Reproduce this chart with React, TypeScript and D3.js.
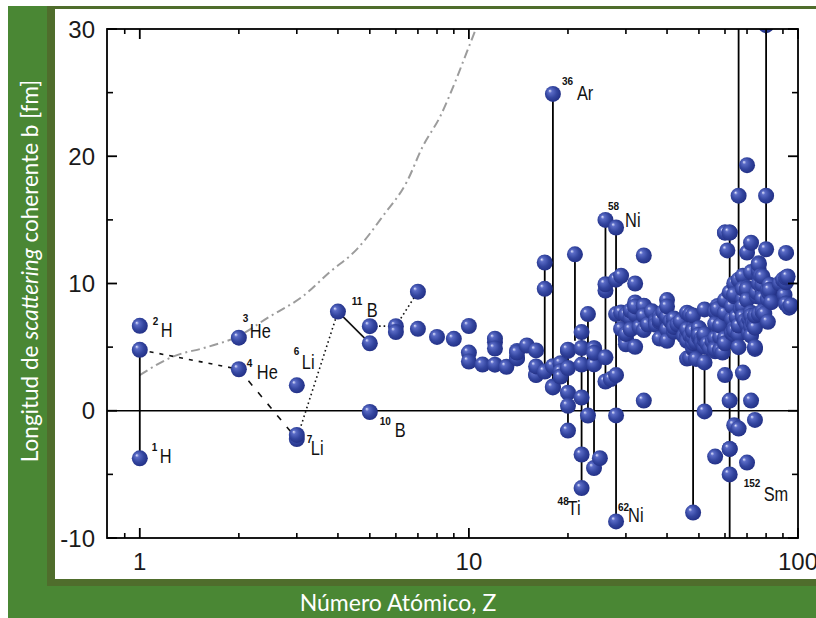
import * as d3 from 'd3';

// ---- data ----
// [Z, coherent scattering lengths b (fm) of the element / its isotopes]
const isotopes: [number, number[]][] = [
  [1, [-3.74, 6.67, 4.79]],
  [2, [5.74, 3.26]],
  [3, [2.0, -2.22, -1.9]],
  [4, [7.79]],
  [5, [6.65, 5.3, -0.1]],
  [6, [6.65, 6.19]],
  [7, [9.36, 6.44]],
  [8, [5.8]],
  [9, [5.65]],
  [10, [4.57, 6.66, 3.87]],
  [11, [3.63]],
  [12, [5.38, 5.66, 3.62, 4.89]],
  [13, [3.45]],
  [14, [4.15, 4.11, 4.7, 4.58]],
  [15, [5.13]],
  [16, [2.85, 2.8, 4.74, 3.48]],
  [17, [9.58, 11.65, 3.08]],
  [18, [1.91, 24.9, 3.5, 1.83]],
  [19, [3.67, 3.74, 3.1, 2.69]],
  [20, [4.7, 4.8, 3.36, -1.56, 1.42, 0.39]],
  [21, [12.29]],
  [22, [-3.44, 4.93, 3.63, -6.08, 1.04, 6.18]],
  [23, [-0.38, 7.6]],
  [24, [3.64, 4.9, 4.91, -4.5, 4.55]],
  [25, [-3.73]],
  [26, [9.45, 4.2, 9.94, 2.3, 15.0]],
  [27, [2.49]],
  [28, [10.3, 14.4, 2.8, 7.6, -8.7, -0.37]],
  [29, [7.72, 6.43, 10.61]],
  [30, [5.68, 5.6, 5.22, 7.56, 6.04]],
  [31, [7.29, 7.88, 6.4]],
  [32, [8.19, 10.0, 8.51, 5.02, 7.58, 8.2]],
  [33, [6.58]],
  [34, [7.97, 0.8, 12.2, 8.25, 8.24, 7.48, 6.34]],
  [35, [6.8, 6.79]],
  [36, [7.81]],
  [37, [7.09, 7.03, 6.75]],
  [38, [7.02, 7.0, 5.67, 7.4, 7.15]],
  [39, [7.75]],
  [40, [7.16, 6.4, 8.7, 7.4, 8.2, 5.5]],
  [41, [7.05]],
  [42, [6.72, 6.91, 6.8, 6.2, 7.24, 6.58]],
  [43, [6.8]],
  [44, [7.03]],
  [45, [5.88]],
  [46, [5.91, 7.7, 5.5, 6.4, 4.1]],
  [47, [5.92, 7.56, 4.17]],
  [48, [4.87, 5.0, 5.31, 5.78, 6.47, 6.34, -8.0, 7.48, 6.26]],
  [49, [4.07, 5.39]],
  [50, [6.23, 6.0, 6.1, 5.93, 6.48, 6.07, 6.12, 6.49, 5.74, 5.97]],
  [51, [5.57, 5.71, 5.38]],
  [52, [5.8, 5.3, 3.8, -0.05, 7.96, 5.02, 5.56, 5.89, 6.02]],
  [53, [5.28]],
  [54, [4.92]],
  [55, [5.42]],
  [56, [5.07, -3.6, 7.8, 5.7, 4.67, 4.91, 6.83, 4.84]],
  [57, [8.24, 8.0]],
  [58, [4.84, 5.8, 6.7, 4.75]],
  [59, [4.58]],
  [60, [7.69, 7.7, 14.0, 2.8, 14.0, 8.7, 5.7, 5.3]],
  [61, [12.6]],
  [62, [0.8, -3.0, 14.0, -3.0, -19.2, 14.0, -5.0, 9.3]],
  [63, [7.22, 6.13, 8.22]],
  [64, [6.5, 10.0, 6.0, 6.3, -1.14, 9.0, 9.15]],
  [65, [7.38]],
  [66, [16.9, 6.1, 6.0, 6.7, 10.3, -1.4, 5.0, 49.4]],
  [67, [8.01]],
  [68, [7.79, 8.8, 8.2, 10.6, 3.0, 7.4, 9.6]],
  [69, [7.07]],
  [70, [12.43, -4.07, 6.77, 9.66, 9.43, 9.56, 19.3, 8.72]],
  [71, [7.21, 6.1]],
  [72, [7.7, 10.9, 6.61, 0.8, 5.9, 7.46, 13.2]],
  [73, [6.91]],
  [74, [4.86, 5.0, 6.97, 6.53, 7.48, -0.72]],
  [75, [9.2, 9.0, 9.3]],
  [76, [10.7, 10.0, 11.6, 7.6, 11.0, 11.5]],
  [77, [10.6]],
  [78, [9.6, 9.0, 9.9, 10.55, 8.83, 7.8]],
  [79, [7.63]],
  [80, [12.69, 30.3, 16.9]],
  [81, [8.78, 6.99, 9.52]],
  [82, [9.41, 9.9, 9.22, 9.28, 9.5]],
  [83, [8.53]],
  [88, [10.0]],
  [90, [10.31]],
  [91, [9.1]],
  [92, [8.42, 10.1, 12.4, 10.47, 8.4]],
  [93, [10.55]],
  [94, [8.1]],
  [95, [8.3]],
];

// vertical black bars: [Z, b low, b high]
const rangeBars: [number, number, number][] = [
  [1, -3.74, 4.79],
  [17, 3.08, 11.65],
  [18, 1.83, 24.9],
  [20, -1.56, 4.8],
  [21, 5.5, 12.29],
  [22, -6.08, 6.18],
  [23, -0.38, 7.6],
  [24, -4.5, 4.91],
  [26, 2.3, 15.0],
  [28, -8.7, 14.4],
  [48, -8.0, 4.6],
  [52, -0.05, 3.8],
  [62, -19.2, 14.0],
  [66, -1.4, 49.4],
  [80, 12.69, 30.3],
];

// grey dash-dot curve
const curveZ = [1.0, 1.26, 1.6, 1.97, 2.48, 3.13, 3.78, 4.57, 5.48, 6.48, 7.25, 8.17, 9.07, 9.86, 10.5];
const curveB = [2.8, 4.25, 5.0, 5.8, 7.4, 9.0, 10.9, 12.7, 15.3, 18.0, 20.8, 23.1, 25.8, 28.2, 30.0];

// links between light nuclei: [Z1, b1, Z2, b2, dash]
const chainLinks: [number, number, number, number, string][] = [
  [1, 4.79, 2, 3.26, '4,6'],
  [2, 3.26, 3, -2.22, '6,9'],
  [3, -2.22, 4, 7.79, '1.6,3'],
  [4, 7.79, 5, 5.3, ''],
  [5, 6.65, 6, 6.65, '1.6,3'],
  [6, 6.65, 7, 9.36, '1.6,3'],
];

// isotope labels: anchor point, superscript, symbol, offsets (px)
const isoLabels = [
  { z: 1, b: -3.74, sup: '1', sym: 'H', sx: 12, sy: -7, nx: 20, ny: 5 },
  { z: 1, b: 6.67, sup: '2', sym: 'H', sx: 13, sy: -1, nx: 21, ny: 11 },
  { z: 2, b: 5.74, sup: '3', sym: 'He', sx: 4, sy: -16, nx: 11, ny: 0 },
  { z: 2, b: 3.26, sup: '4', sym: 'He', sx: 8, sy: -2, nx: 18, ny: 10 },
  { z: 3, b: 2.0, sup: '6', sym: 'Li', sx: -3, sy: -30, nx: 5, ny: -16 },
  { z: 3, b: -2.22, sup: '7', sym: 'Li', sx: 10, sy: 4, nx: 14, ny: 16 },
  { z: 5, b: 6.65, sup: '11', sym: 'B', sx: -18, sy: -21, nx: -3, ny: -9 },
  { z: 5, b: -0.1, sup: '10', sym: 'B', sx: 10, sy: 13, nx: 25, ny: 25 },
  { z: 18, b: 24.9, sup: '36', sym: 'Ar', sx: 9, sy: -9, nx: 24, ny: 6 },
  { z: 28, b: 14.4, sup: '58', sym: 'Ni', sx: -8, sy: -18, nx: 9, ny: -1 },
  { z: 22, b: -6.08, sup: '48', sym: 'Ti', sx: -24, sy: 17, nx: -14, ny: 27 },
  { z: 28, b: -8.7, sup: '62', sym: 'Ni', sx: 2, sy: -10, nx: 12, ny: 1 },
  { z: 62, b: -5.0, sup: '152', sym: 'Sm', sx: 14, sy: 13, nx: 34, ny: 27 },
];

const yMajor = [-10, 0, 10, 20, 30];
const yMinor = [-5, 5, 15, 25];
const xMajor = [1, 10, 100];
const xMinor = [0.9, 2, 3, 4, 5, 6, 7, 8, 9, 20, 30, 40, 50, 60, 70, 80, 90];

// ---- layout ----
const W = 816;
const H = 618;
const L = 107, R = 798, T = 29, B = 538;
const GREEN = '#4a8734';
const SHADOW = '#4f6d2c';

const x = d3.scaleLog().domain([0.795, 100]).range([L, R]);
const y = d3.scaleLinear().domain([-10, 30]).range([B, T]);

export default function App() {
  const points = isotopes.flatMap(([z, bs]) => bs.map((b) => ({ z, b })));
  const curve = d3
    .line<number>()
    .x((_, i) => x(curveZ[i]))
    .y((_, i) => y(curveB[i]))
    .curve(d3.curveMonotoneX)(curveB);

  return (
    <svg
      width={W}
      height={H}
      style={{ position: 'absolute', left: 0, top: 0, display: 'block' }}
      fontFamily="'Liberation Sans', Arial, sans-serif"
    >
      <defs>
        <radialGradient id="ball" cx="0.45" cy="0.45" r="0.6" fx="0.3" fy="0.3">
          <stop offset="0" stopColor="#e4e7ff" />
          <stop offset="0.2" stopColor="#5a6bc6" />
          <stop offset="0.6" stopColor="#33459f" />
          <stop offset="1" stopColor="#202d82" />
        </radialGradient>
        <clipPath id="plotClip">
          <rect x={L} y={T} width={R - L} height={B - T} />
        </clipPath>
      </defs>

      {/* green frame */}
      <rect x={8} y={6} width={W - 8} height={H - 6} fill={GREEN} />
      <rect x={47} y={6} width={W - 47} height={580} fill={SHADOW} />
      <rect x={55} y={9} width={W - 55} height={570} fill="#fff" />

      <g clipPath="url(#plotClip)">
        <path d={curve || ''} fill="none" stroke="#9c9c9c" strokeWidth={2} strokeDasharray="9,4,2,4" />
        <line x1={L} x2={R} y1={y(0)} y2={y(0)} stroke="#000" strokeWidth={1.6} />
        {rangeBars.map(([z, lo, hi], i) => (
          <line key={i} x1={x(z)} x2={x(z)} y1={y(lo)} y2={y(hi)} stroke="#000" strokeWidth={1.8} />
        ))}
        {chainLinks.map(([z1, b1, z2, b2, dash], i) => (
          <line
            key={i}
            x1={x(z1)}
            y1={y(b1)}
            x2={x(z2)}
            y2={y(b2)}
            stroke="#111"
            strokeWidth={1.6}
            strokeDasharray={dash || undefined}
          />
        ))}
        {points.map((p, i) => (
          <circle key={i} cx={x(p.z)} cy={y(p.b)} r={8} fill="url(#ball)" />
        ))}
      </g>

      {/* isotope labels */}
      {isoLabels.map((d, i) => {
        const px = x(d.z);
        const py = y(d.b);
        return (
          <g key={i} fill="#111">
            <text x={px + d.sx} y={py + d.sy} fontSize={10} fontWeight="bold">
              {d.sup}
            </text>
            <text transform={`translate(${px + d.nx},${py + d.ny}) scale(0.82,1)`} fontSize={20}>
              {d.sym}
            </text>
          </g>
        );
      })}

      {/* frame and ticks */}
      <rect x={L} y={T} width={R - L} height={B - T} fill="none" stroke="#000" strokeWidth={1.8} />
      {yMajor.map((v) => (
        <g key={'ym' + v}>
          <line x1={L} x2={L + 10} y1={y(v)} y2={y(v)} stroke="#000" strokeWidth={1.8} />
          <line x1={R} x2={R - 10} y1={y(v)} y2={y(v)} stroke="#000" strokeWidth={1.8} />
          <text x={95} y={y(v)} dy="0.36em" textAnchor="end" fontSize={24} fill="#1a1a1a">
            {v}
          </text>
        </g>
      ))}
      {yMinor.map((v) => (
        <g key={'yn' + v}>
          <line x1={L} x2={L + 6} y1={y(v)} y2={y(v)} stroke="#000" strokeWidth={1.6} />
          <line x1={R} x2={R - 6} y1={y(v)} y2={y(v)} stroke="#000" strokeWidth={1.6} />
        </g>
      ))}
      {xMajor.map((v) => (
        <g key={'xm' + v}>
          <line x1={x(v)} x2={x(v)} y1={B} y2={B - 10} stroke="#000" strokeWidth={1.8} />
          <line x1={x(v)} x2={x(v)} y1={T} y2={T + 10} stroke="#000" strokeWidth={1.8} />
          <text x={x(v)} y={570} textAnchor="middle" fontSize={24} fill="#1a1a1a">
            {v}
          </text>
        </g>
      ))}
      {xMinor.map((v) => (
        <g key={'xn' + v}>
          <line x1={x(v)} x2={x(v)} y1={B} y2={B - 5} stroke="#000" strokeWidth={1.6} />
          <line x1={x(v)} x2={x(v)} y1={T} y2={T + 5} stroke="#000" strokeWidth={1.6} />
        </g>
      ))}

      {/* axis titles */}
      <text
        transform="translate(30,271) rotate(-90)"
        textAnchor="middle"
        dy="0.35em"
        fill="#fff"
        fontSize={22.5}
        fontFamily="Lato, 'Open Sans', sans-serif"
      >
        Longitud de <tspan fontStyle="italic">scattering</tspan> coherente b [fm]
      </text>
      <text
        x={398}
        y={603}
        dy="0.35em"
        textAnchor="middle"
        fill="#fff"
        fontSize={23}
        fontFamily="Lato, 'Open Sans', sans-serif"
      >
        Número Atómico, Z
      </text>
    </svg>
  );
}
